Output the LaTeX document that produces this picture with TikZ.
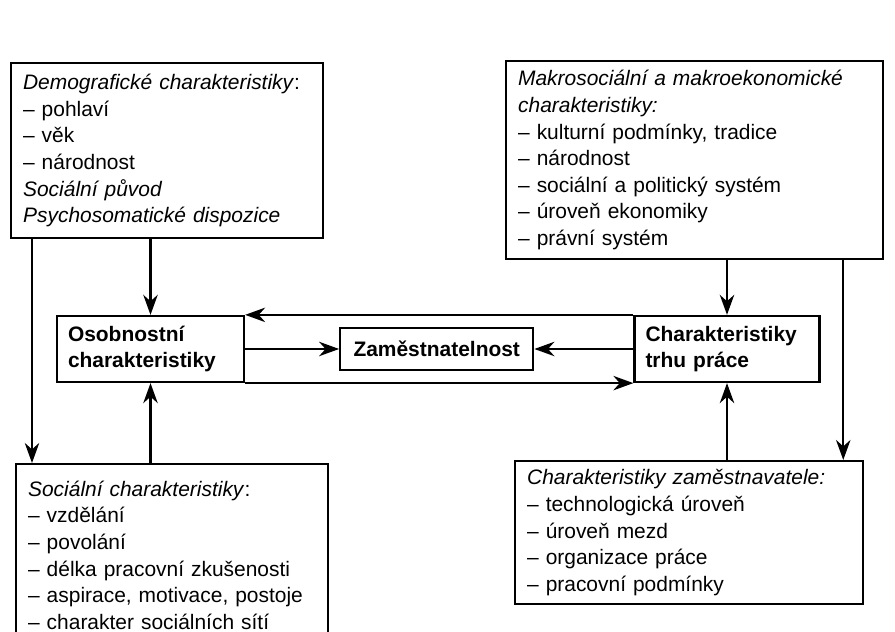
\documentclass[tikz,border=0pt]{standalone}
\usepackage{fontspec}
\setmainfont{Liberation Sans}
\usetikzlibrary{arrows.meta,positioning}

\begin{document}
\begin{tikzpicture}[font=\fontsize{14.9}{18.9}\selectfont, >={Stealth[length=5mm, width=3.6mm, inset=1.6mm]},
    line width=1.6pt,
    node distance=5mm and 10mm,
    list/.style={draw, anchor=north west, align=left, inner xsep=3mm, inner ysep=2mm},
    core/.style={draw, align=left, font=\fontsize{14.9}{18.9}\selectfont\bfseries, minimum height=16.5mm, inner xsep=2.75mm},
    hub/.style={draw, align=center, font=\fontsize{14.9}{18.9}\selectfont\bfseries, minimum height=10.5mm, minimum width=48.25mm}]

  \useasboundingbox (0,0) rectangle (22.375,15.8);
  \clip (0,0) rectangle (22.375,15.8);

  % --- Middle Tier: Osobnost -> Zamestnatelnost <- Trh prace ---
  \node[core, text width=41.25mm] (osob) at (3.7625,7.075) {Osobnostní\\charakteristiky};
  \node[hub, right=2.35cm of osob] (zam) {Zaměstnatelnost};
  \node[core, text width=40.75mm, right=2.475cm of zam] (trh) {Charakteristiky\\trhu práce};

  \draw[->] (osob.east) -- (zam.west);
  \draw[->] (trh.west) -- (zam.east);
  \draw[->] (trh.north west) -- (osob.north east);
  \draw[->] (osob.south east) -- (trh.south west);

  % --- Outer Tier: four lists of factors ---
  \node[list, text width=72mm, minimum height=43.75mm] (demo) at (0.25,14.25)
    {\textit{Demografické charakteristiky}:\\– pohlaví\\– věk\\– národnost\\\textit{Sociální původ}\\\textit{Psychosomatické dispozice}};
  \node[list, text width=88.25mm, minimum height=49.5mm] (makro) at (12.625,14.3)
    {\textit{Makrosociální a makroekonomické}\\\textit{charakteristiky:}\\– kulturní podmínky, tradice\\– národnost\\– sociální a politický systém\\– úroveň ekonomiky\\– právní systém};
  \node[list, text width=72mm, minimum height=45.5mm] (soc) at (0.375,4.225)
    {\textit{Sociální charakteristiky}:\\– vzdělání\\– povolání\\– délka pracovní zkušenosti\\– aspirace, motivace, postoje\\– charakter sociálních sítí};
  \node[list, text width=81mm, minimum height=35.75mm] (emp) at (12.85,4.3)
    {\textit{Charakteristiky zaměstnavatele:}\\– technologická úroveň\\– úroveň mezd\\– organizace práce\\– pracovní podmínky};

  \coordinate (dl) at ([xshift=5.5mm]demo.south west);
  \coordinate (mr) at ([xshift=-10.25mm]makro.south east);

  \draw[->] (demo.south -| osob.north) -- (osob.north);
  \draw[->] (dl) -- (dl |- soc.north);
  \draw[->] (soc.north -| osob.south) -- (osob.south);
  \draw[->] (makro.south -| trh.north) -- (trh.north);
  \draw[->] (mr) -- (mr |- emp.north);
  \draw[->] (emp.north -| trh.south) -- (trh.south);
\end{tikzpicture}
\end{document}
